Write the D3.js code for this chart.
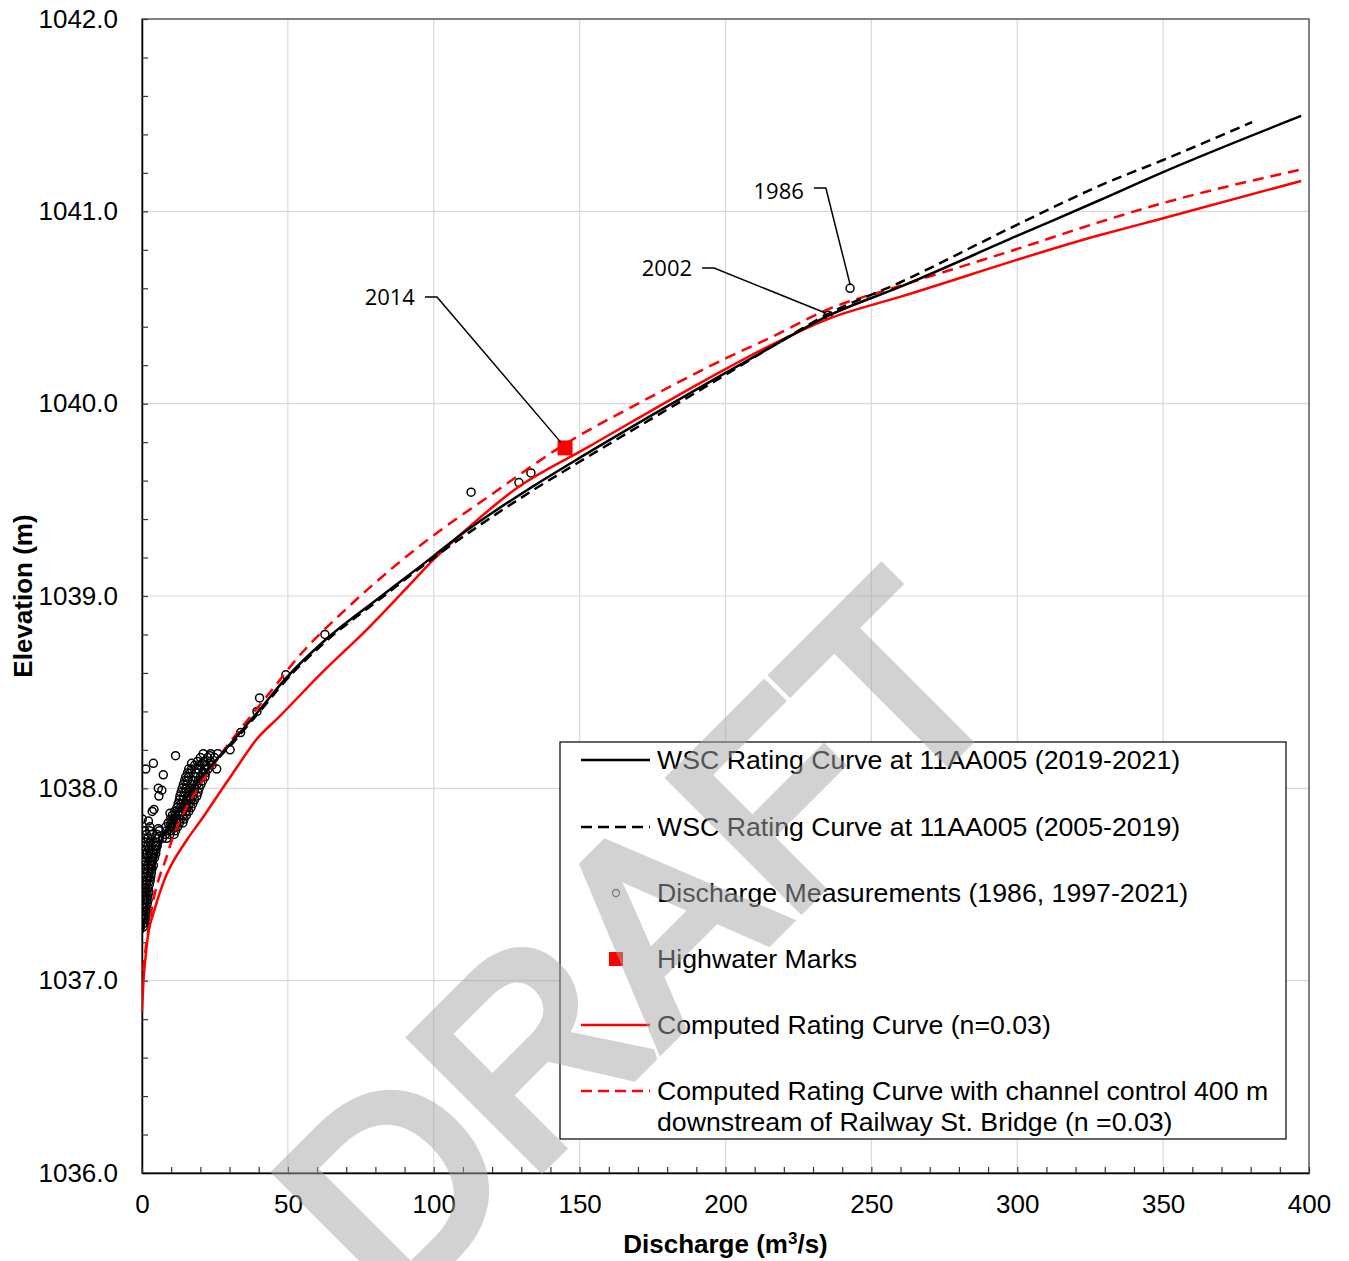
<!DOCTYPE html>
<html><head><meta charset="utf-8">
<script src="https://cdn.jsdelivr.net/npm/d3@7"></script>
<style>body{margin:0;background:#fff} svg{display:block}</style>
</head><body><svg id="c" width="1349" height="1261"></svg>
<script>
// ---------- DATA ----------
const xTickValues = [0,50,100,150,200,250,300,350,400];
const yTickValues = [1036,1037,1038,1039,1040,1041,1042];

// WSC Rating Curve 2019-2021 [Q, Elev]
const wsc2019 = [[0.3,1037.25],[1,1037.33],[2,1037.45],[3.5,1037.57],[5,1037.66],[7.5,1037.76],[10,1037.83],[15,1037.95],[20,1038.05],[25,1038.14],[30.2,1038.23],[37,1038.35],[40.4,1038.41],[49.2,1038.57],[62.7,1038.77],[81.2,1038.99],[100.1,1039.21],[105.9,1039.28],[134,1039.57],[152.4,1039.74],[200,1040.16],[216.3,1040.30],[235.1,1040.456],[259.8,1040.607],[299.9,1040.872],[328.4,1041.059],[350,1041.204],[397.3,1041.496]];
// WSC Rating Curve 2005-2019
const wsc2005 = [[0.5,1037.27],[1,1037.33],[2,1037.45],[3.5,1037.56],[5,1037.65],[7.5,1037.75],[10,1037.83],[15,1037.95],[20,1038.05],[25,1038.14],[30.2,1038.22],[37,1038.34],[40.4,1038.40],[49.2,1038.56],[62.7,1038.76],[81.2,1038.98],[100.1,1039.20],[134,1039.55],[152.4,1039.72],[200,1040.15],[216.3,1040.30],[235.1,1040.466],[259.8,1040.630],[299.9,1040.930],[330.8,1041.150],[350,1041.267],[380.5,1041.464]];
// Computed rating curve n=0.03
const computed = [[0,1036.84],[0.5,1037.0],[1.2,1037.12],[2.2,1037.25],[3.9,1037.35],[7.3,1037.51],[15.3,1037.73],[20,1037.83],[26.7,1037.98],[33,1038.12],[39,1038.25],[46.9,1038.37],[61.6,1038.60],[78,1038.84],[90,1039.03],[100,1039.19],[110,1039.33],[128.4,1039.56],[152.4,1039.77],[200,1040.18],[216.3,1040.31],[235.1,1040.44],[259.8,1040.555],[328.4,1040.877],[347.8,1040.955],[397.3,1041.158]];
// Computed rating curve with channel control
const computedCtrl = [[0.4,1037.05],[1.2,1037.16],[2.2,1037.26],[3.3,1037.37],[4.5,1037.46],[6,1037.54],[7.9,1037.62],[10.7,1037.75],[16,1037.92],[20,1038.02],[26.7,1038.17],[37,1038.37],[45,1038.52],[53.4,1038.68],[69.8,1038.93],[86.2,1039.15],[96,1039.27],[120,1039.53],[145,1039.79],[170,1040.00],[200,1040.235],[216.3,1040.35],[235.1,1040.49],[259.8,1040.612],[299.9,1040.804],[328.4,1040.945],[350,1041.043],[396.6,1041.215]];

// Discharge measurements [Q, Elev]
const measurements = [
[0.5,1037.28],[0.6,1037.30],[1.0,1037.30],[0.5,1037.32],[1.1,1037.32],[0.7,1037.34],[1.3,1037.34],
[0.5,1037.36],[1.2,1037.36],[1.6,1037.36],[0.6,1037.38],[1.4,1037.38],[0.5,1037.40],[1.0,1037.40],[1.8,1037.40],
[0.7,1037.42],[1.5,1037.42],[2.1,1037.42],[0.5,1037.44],[1.2,1037.44],[2.0,1037.44],[0.8,1037.46],[1.6,1037.46],[2.4,1037.46],
[0.5,1037.48],[1.3,1037.48],[2.2,1037.48],[0.7,1037.50],[1.5,1037.50],[2.5,1037.50],[0.6,1037.52],[1.8,1037.52],[2.8,1037.52],
[0.5,1037.54],[1.3,1037.54],[2.3,1037.54],[3.0,1037.54],[0.9,1037.56],[1.9,1037.56],[3.2,1037.56],
[0.6,1037.58],[1.5,1037.58],[2.6,1037.58],[3.4,1037.58],[0.8,1037.60],[2.0,1037.60],[3.1,1037.60],[3.9,1037.60],
[0.5,1037.62],[1.4,1037.62],[2.6,1037.62],[3.6,1037.62],[1.0,1037.64],[2.2,1037.64],[3.3,1037.64],[4.3,1037.64],
[0.6,1037.66],[1.7,1037.66],[2.9,1037.66],[4.0,1037.66],[4.7,1037.66],[1.2,1037.68],[2.4,1037.68],[3.6,1037.68],[4.8,1037.68],
[0.7,1037.70],[2.0,1037.70],[3.2,1037.70],[4.4,1037.70],[5.2,1037.70],[1.4,1037.72],[2.7,1037.72],[3.9,1037.72],[5.0,1037.72],
[0.8,1037.74],[2.1,1037.74],[4.6,1037.74],[5.6,1037.74],[1.5,1037.76],[3.3,1037.76],[5.2,1037.76],[0.9,1037.78],[2.6,1037.78],[6.0,1037.78],
[7.0,1037.74],[8.5,1037.74],[8.0,1037.76],[9.5,1037.76],[11.0,1037.76],[8.5,1037.78],[10.0,1037.78],[11.5,1037.78],
[8.2,1037.80],[9.5,1037.80],[11.0,1037.80],[12.2,1037.80],[9.0,1037.82],[10.2,1037.82],[11.8,1037.82],[12.8,1037.82],[14.0,1037.82],
[9.8,1037.84],[10.8,1037.84],[12.0,1037.84],[13.2,1037.84],[14.4,1037.84],
[10.4,1037.86],[11.5,1037.86],[12.8,1037.86],[14.0,1037.86],[15.2,1037.86],[11.2,1037.88],[12.5,1037.88],[13.8,1037.88],[15.0,1037.88],[16.0,1037.88],
[12.0,1037.90],[13.2,1037.90],[14.4,1037.90],[15.5,1037.90],[16.8,1037.90],[12.4,1037.92],[13.5,1037.92],[14.8,1037.92],[16.2,1037.92],[17.4,1037.92],
[12.8,1037.94],[14.0,1037.94],[15.5,1037.94],[16.8,1037.94],[18.0,1037.94],[13.0,1037.96],[14.2,1037.96],[15.8,1037.96],[17.4,1037.96],[18.8,1037.96],
[13.4,1037.98],[14.6,1037.98],[16.2,1037.98],[17.8,1037.98],[19.2,1037.98],[13.8,1038.00],[15.0,1038.00],[16.6,1038.00],[18.2,1038.00],[19.6,1038.00],
[14.2,1038.02],[15.3,1038.02],[17.0,1038.02],[18.8,1038.02],[20.2,1038.02],[14.6,1038.04],[15.6,1038.04],[17.4,1038.04],[19.3,1038.04],[20.8,1038.04],
[15.0,1038.06],[16.0,1038.06],[18.0,1038.06],[20.0,1038.06],[21.6,1038.06],[15.6,1038.08],[16.6,1038.08],[18.6,1038.08],[20.8,1038.08],[21.8,1038.08],
[16.0,1038.10],[17.0,1038.10],[19.2,1038.10],[21.4,1038.10],[22.6,1038.10],[18.0,1038.12],[20.0,1038.12],[22.0,1038.12],[24.0,1038.12],
[19.0,1038.14],[21.2,1038.14],[23.4,1038.14],[20.0,1038.16],[22.5,1038.16],[24.8,1038.16],[21.0,1038.18],[23.5,1038.18],[26.0,1038.18],
[1.3,1038.10],[3.9,1038.13],[11.5,1038.17],[7.3,1038.07],[5.6,1038.00],[6.8,1037.99],[5.8,1037.96],[4.1,1037.89],[3.5,1037.88],
[0.1,1037.84],[2.2,1037.83],[2.7,1037.80],[5.6,1037.79],[9.6,1037.87],[10.2,1037.80],[17.0,1038.13],[20.7,1038.13],[23.3,1038.17],
[25.6,1038.10],[30.2,1038.20],[33.8,1038.29],[39.4,1038.40],[40.3,1038.47],[49.3,1038.59],[62.7,1038.80],
[112.8,1039.54],[129.2,1039.59],[133.3,1039.64],[235.1,1040.46],[242.7,1040.60]];

const highwater = [[145,1039.77]];

// annotations: label, target (Q,E), elbow (Q,E)
const annoLabels = ["2014","2002","1986"];
const annoTargets = [[143.5,1039.8],[234.5,1040.47],[242.7,1040.62]];
const annoElbows = [[101.1,1040.555],[196.1,1040.705],[234.4,1041.121]];
const annoTextShift = [8,8,11];

const legendLabels = [
  ["WSC Rating Curve at 11AA005 (2019-2021)"],
  ["WSC Rating Curve at 11AA005 (2005-2019)"],
  ["Discharge Measurements (1986, 1997-2021)"],
  ["Highwater Marks"],
  ["Computed Rating Curve (n=0.03)"],
  ["Computed Rating Curve with channel control 400 m","downstream of Railway St. Bridge (n =0.03)"]
];

// ---------- DRAW ----------
const svg = d3.select("#c");
const L=142, R=1309, T=19, B=1173;
const x = d3.scaleLinear([0,400],[L,R]);
const y = d3.scaleLinear([1036,1042],[B,T]);
const font = "'Liberation Sans', Arial, sans-serif";

svg.append("rect").attr("width",1349).attr("height",1261).attr("fill","#fff");

// grid
const g = svg.append("g");
g.selectAll(".gx").data(xTickValues.slice(1,-1)).join("line")
  .attr("x1",d=>x(d)).attr("x2",d=>x(d)).attr("y1",T).attr("y2",B)
  .attr("stroke","#d9d9d9").attr("stroke-width",1.2);
g.selectAll(".gy").data(yTickValues.slice(1,-1)).join("line")
  .attr("y1",d=>y(d)).attr("y2",d=>y(d)).attr("x1",L).attr("x2",R)
  .attr("stroke","#d9d9d9").attr("stroke-width",1.2);

// frame
svg.append("rect").attr("x",L).attr("y",T).attr("width",R-L).attr("height",B-T)
  .attr("fill","none").attr("stroke","#595959").attr("stroke-width",1.5);

// axes
const yAxis = d3.axisLeft(y).tickValues(d3.range(0,31).map(i=>1036+i*0.2))
  .tickSizeInner(-6).tickSizeOuter(0).tickPadding(24)
  .tickFormat(d=>Math.abs(d-Math.round(d))<1e-6 ? d3.format(".1f")(d) : "");
const ya = svg.append("g").attr("transform",`translate(${L},0)`).call(yAxis);
const xAxis = d3.axisBottom(x).tickValues(d3.range(0,41).map(i=>i*10))
  .tickSizeInner(-6).tickSizeOuter(0).tickPadding(22)
  .tickFormat(d=>d%50===0 ? d : "");
const xa = svg.append("g").attr("transform",`translate(0,${B})`).call(xAxis);
[ya,xa].forEach(a=>{
  a.select(".domain").attr("stroke","#000").attr("stroke-width",1.5);
  a.selectAll(".tick line").attr("stroke","#333").attr("stroke-width",1.2);
  a.selectAll("text").attr("font-family",font).attr("font-size",26).attr("fill","#000");
});

// axis titles
svg.append("text").attr("x",(L+R)/2).attr("y",1253).attr("text-anchor","middle")
  .attr("font-family",font).attr("font-weight","bold").attr("font-size",26)
  .html('Discharge (m<tspan dy="-9" font-size="17">3</tspan><tspan dy="9">/s)</tspan>');
svg.append("text").attr("transform",`translate(32,${(T+B)/2}) rotate(-90)`).attr("text-anchor","middle")
  .attr("font-family",font).attr("font-weight","bold").attr("font-size",26).text("Elevation (m)");

// clip
svg.append("clipPath").attr("id","clip").append("rect").attr("x",L).attr("y",T).attr("width",R-L).attr("height",B-T);
const plot = svg.append("g").attr("clip-path","url(#clip)");

const line = d3.line().x(d=>x(d[0])).y(d=>y(d[1])).curve(d3.curveMonotoneX);

// measurements
plot.append("g").selectAll("circle").data(measurements).join("circle")
  .attr("cx",d=>x(d[0])).attr("cy",d=>y(d[1])).attr("r",4)
  .attr("fill","none").attr("stroke","#000").attr("stroke-width",1.5);

plot.append("path").datum(computed).attr("d",line).attr("fill","none").attr("stroke","#ff0000").attr("stroke-width",2.5);
plot.append("path").datum(computedCtrl).attr("d",line).attr("fill","none").attr("stroke","#ff0000").attr("stroke-width",2.5).attr("stroke-dasharray","11,7");
plot.append("path").datum(wsc2019).attr("d",line).attr("fill","none").attr("stroke","#000").attr("stroke-width",2.5);
plot.append("path").datum(wsc2005).attr("d",line).attr("fill","none").attr("stroke","#000").attr("stroke-width",2.5).attr("stroke-dasharray","10,6");

// annotations
annoLabels.forEach((lab,i)=>{
  const [tq,te]=annoTargets[i], [eq,ee]=annoElbows[i];
  const ex=x(eq), ey=y(ee);
  svg.append("path").attr("d",`M${ex-12},${ey}L${ex},${ey}L${x(tq)},${y(te)}`)
    .attr("fill","none").attr("stroke","#000").attr("stroke-width",1.5);
  svg.append("text").attr("x",ex-22).attr("y",ey+annoTextShift[i]).attr("text-anchor","end")
    .attr("font-family","'Open Sans', 'Noto Sans', sans-serif").attr("font-size",22).text(lab);
});

// highwater
plot.selectAll(".hw").data(highwater).join("rect")
  .attr("x",d=>x(d[0])-7.5).attr("y",d=>y(d[1])-7.5).attr("width",15).attr("height",15).attr("fill","#ff0000");

// legend
const lg = svg.append("g");
lg.append("rect").attr("x",560).attr("y",742).attr("width",726).attr("height",397)
  .attr("fill","#fff").attr("stroke","#000").attr("stroke-width",1.2);
const rowY = [760,827,893,959,1025,1091];
const sym = [
  s=>s.append("line").attr("x1",581).attr("x2",650).attr("stroke","#000").attr("stroke-width",2.5),
  s=>s.append("line").attr("x1",581).attr("x2",650).attr("stroke","#000").attr("stroke-width",2.5).attr("stroke-dasharray","11,6"),
  s=>s.append("circle").attr("cx",616).attr("r",3.5).attr("fill","none").attr("stroke","#555").attr("stroke-width",1.3),
  s=>s.append("rect").attr("x",609).attr("y",-7).attr("width",14).attr("height",14).attr("fill","#ff0000"),
  s=>s.append("line").attr("x1",581).attr("x2",650).attr("stroke","#ff0000").attr("stroke-width",2.5),
  s=>s.append("line").attr("x1",581).attr("x2",650).attr("stroke","#ff0000").attr("stroke-width",2.5).attr("stroke-dasharray","11,6")
];
legendLabels.forEach((labs,i)=>{
  const row = lg.append("g").attr("transform",`translate(0,${rowY[i]})`);
  sym[i](row);
  labs.forEach((t,j)=>row.append("text").attr("x",657).attr("y",9+j*31)
    .attr("font-family",font).attr("font-size",26.7).attr("fill","#000").text(t));
});

// watermark
svg.append("g").attr("opacity",0.5).attr("pointer-events","none")
  .append("text").attr("transform","translate(392,1316) rotate(-45)")
  .attr("font-family",font).attr("font-size",264)
  .attr("fill","#a6a6a6").attr("stroke","#a6a6a6").attr("stroke-width",12)
  .attr("stroke-linejoin","miter").attr("stroke-miterlimit",2)
  .text("DRAFT");
</script></body></html>
